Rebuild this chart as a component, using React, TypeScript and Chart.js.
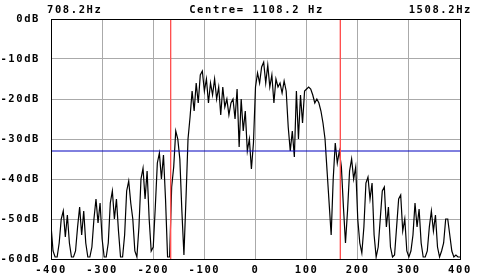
import React, { useEffect, useRef } from "react";
import { Chart, registerables } from "chart.js";

Chart.register(...registerables);

// Frequency offsets (Hz) of the spectrum samples: start and spacing
const freqStart = -400;
const freqStep = 4;

// Spectrum levels in dB, one per sample
const levels = [
  -51.5, -58, -59.5, -59.5, -56, -50, -48, -54.5, -49, -56,
  -59.5, -59.5, -58, -52, -47, -54, -48, -56, -59.5, -59.5,
  -57, -50, -45, -51, -46, -55, -59.5, -59.5, -56, -46,
  -43, -50, -45, -53, -59.5, -59.5, -54, -43, -40.5, -46,
  -50, -58, -59.5, -52, -40, -37.3, -45, -38, -50, -58,
  -57, -47, -36, -33.5, -40, -34, -45, -59.5, -59.5, -42,
  -37, -28, -30, -35, -48, -59, -45, -30, -24.5, -18,
  -23, -16, -21, -14, -13, -18, -15, -21, -16, -19,
  -15, -20, -17, -24, -17, -22, -20, -24, -21, -20,
  -25, -17.5, -32, -20, -28, -23, -33, -30, -37.5, -31,
  -17, -13.5, -16, -12, -10.8, -16, -11.5, -17, -14, -21,
  -15, -17, -16, -18.5, -15.5, -18, -27, -33, -28, -34.5,
  -18, -30, -19, -26, -18, -17.5, -17, -17.5, -19, -21,
  -20, -21, -23, -26, -30, -38, -46, -54, -40, -31,
  -36, -33, -37, -47, -56, -48, -38, -35, -40, -37,
  -50, -56, -58.5, -52, -41, -39.5, -45, -41, -54, -59.5,
  -57, -50, -43, -42, -52, -47, -57, -59.5, -59, -52,
  -45, -44, -53, -50, -58, -59.5, -58, -54, -46, -52,
  -47.5, -56, -59.5, -59.5, -58, -52, -48, -53, -49, -57,
  -59.5, -58, -56, -50, -50, -54, -58, -59.5, -59, -59.5,
  -59.5,
];

// Marker (filter edge) frequencies and threshold level
const markerFreqs = [-166, 166];
const thresholdLevel = -33;

// Axis ranges
const xMin = -400;
const xMax = 400;
const yMin = -60;
const yMax = 0;

// Header texts
const startLabel = "708.2Hz";
const centreLabel = "Centre= 1108.2 Hz";
const endLabel = "1508.2Hz";

const FONT_FAMILY = "'DejaVu Sans Mono', monospace";
const LETTER_SPACING = "1.6px";

const framePlugin = {
  id: "framePlugin",
  beforeUpdate(chart: any) {
    chart.ctx.letterSpacing = LETTER_SPACING;
  },
  beforeDraw(chart: any) {
    chart.ctx.letterSpacing = LETTER_SPACING;
  },
  afterDraw(chart: any) {
    const { ctx, chartArea } = chart;
    ctx.save();
    ctx.strokeStyle = "#000";
    ctx.lineWidth = 1;
    ctx.strokeRect(
      Math.round(chartArea.left) + 0.5,
      Math.round(chartArea.top) + 0.5,
      Math.round(chartArea.right - chartArea.left),
      Math.round(chartArea.bottom - chartArea.top)
    );
    ctx.fillStyle = "#000";
    ctx.font = `bold 10.5px ${FONT_FAMILY}`;
    ctx.letterSpacing = LETTER_SPACING;
    ctx.textBaseline = "alphabetic";
    const y = 13;
    ctx.textAlign = "left";
    ctx.fillText(startLabel, 47, y);
    ctx.textAlign = "center";
    ctx.fillText(centreLabel, (chartArea.left + chartArea.right) / 2 + 1, y);
    ctx.textAlign = "right";
    ctx.fillText(endLabel, 472, y);
    ctx.restore();
  },
};

export default function App() {
  const ref = useRef<HTMLCanvasElement | null>(null);

  useEffect(() => {
    if (!ref.current) return;
    const trace = levels.map((v, i) => ({ x: freqStart + i * freqStep, y: v }));
    const markerSets = markerFreqs.map((f) => ({
      type: "line" as const,
      data: [
        { x: f, y: yMax },
        { x: f, y: yMin },
      ],
      borderColor: "rgb(255,80,80)",
      borderWidth: 1,
      pointRadius: 0,
      order: 0,
    }));
    const tickFont = { family: FONT_FAMILY, weight: "bold" as const, size: 10.5 };
    const chart = new Chart(ref.current, {
      type: "line",
      data: {
        datasets: [
          ...markerSets,
          {
            data: [
              { x: xMin, y: thresholdLevel },
              { x: xMax, y: thresholdLevel },
            ],
            borderColor: "rgb(0,0,190)",
            borderWidth: 1,
            pointRadius: 0,
            order: 0,
          },
          {
            data: trace,
            borderColor: "#000",
            borderWidth: 1.2,
            pointRadius: 0,
            tension: 0,
            order: 1,
          },
        ],
      },
      options: {
        animation: false,
        responsive: false,
        events: [],
        layout: { padding: { top: 19, right: 20, left: 0, bottom: 0 } },
        plugins: {
          legend: { display: false },
          tooltip: { enabled: false },
          title: { display: false },
        },
        scales: {
          x: {
            type: "linear",
            min: xMin,
            max: xMax,
            border: { display: false },
            grid: { color: "#aaaaaa", drawTicks: false, lineWidth: 1 },
            ticks: {
              stepSize: 100,
              padding: 5,
              color: "#000",
              maxRotation: 0,
              font: tickFont,
            },
            afterFit(scale: any) {
              scale.height = 21;
            },
          },
          y: {
            type: "linear",
            min: yMin,
            max: yMax,
            border: { display: false },
            grid: { color: "#aaaaaa", drawTicks: false, lineWidth: 1 },
            ticks: {
              stepSize: 10,
              padding: 11,
              color: "#000",
              font: tickFont,
              callback: (v: any) => `${v}dB`,
            },
            afterFit(scale: any) {
              scale.width = 51;
            },
          },
        },
      },
      plugins: [framePlugin],
    });
    return () => chart.destroy();
  }, []);

  return (
    <div style={{ position: "absolute", left: 0, top: 0, width: 480, height: 280, background: "#fff" }}>
      <canvas ref={ref} width={480} height={280} />
    </div>
  );
}
